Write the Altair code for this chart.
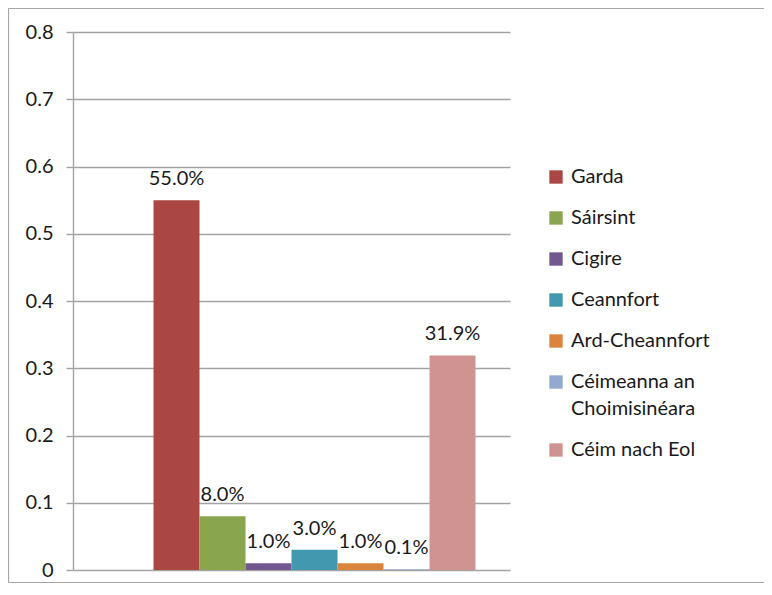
import altair as alt
import pandas as pd

series = ["Garda", "Sáirsint", "Cigire", "Ceannfort", "Ard-Cheannfort",
          "Céimeanna an Choimisinéara", "Céim nach Eol"]
values = [0.55, 0.08, 0.01, 0.03, 0.01, 0.001, 0.319]
colors = ["#AA4643", "#89A54E", "#71588F", "#4198AF", "#DB843D", "#93A9CF", "#D19392"]
y_ticks = [0, 0.1, 0.2, 0.3, 0.4, 0.5, 0.6, 0.7, 0.8]

df = pd.DataFrame({"series": series, "value": values})

FONT = "Lato"
FS = 20
GRID = "#a3a3a3"
BORDER = "#a6a6a6"

# one empty slot before the bars reproduces the off-centre cluster of the original
x_domain = [""] + series
xscale = alt.Scale(domain=x_domain, paddingInner=0, paddingOuter=0.75)

base = alt.Chart(df).encode(
    x=alt.X("series:N", sort=series, scale=xscale, axis=None),
)

bars = base.mark_bar().encode(
    y=alt.Y("value:Q",
            scale=alt.Scale(domain=[0, 0.8], nice=False),
            axis=alt.Axis(values=y_ticks, format="~g", title=None,
                          grid=True, gridColor=GRID, gridWidth=1.4,
                          domainColor=GRID, domainWidth=1.4,
                          tickColor=GRID, tickWidth=1.4, tickSize=7,
                          labelFont=FONT, labelFontSize=FS, labelColor="#1a1a1a",
                          labelPadding=13)),
    color=alt.Color("series:N", sort=series,
                    scale=alt.Scale(domain=series, range=colors),
                    legend=alt.Legend(title=None, orient="none",
                                      legendX=473, legendY=135,
                                      padding=0, symbolType="square",
                                      symbolSize=178, symbolStrokeWidth=0,
                                      labelFont=FONT, labelFontSize=FS,
                                      labelColor="#1a1a1a", labelOffset=5,
                                      rowPadding=21, labelLimit=250,
                                      labelExpr="datum.label == 'Céimeanna an Choimisinéara' ? ['Céimeanna an', 'Choimisinéara'] : datum.label")),
)

labels = base.mark_text(font=FONT, fontSize=FS, color="#1a1a1a",
                        baseline="alphabetic", dy=-15).encode(
    y=alt.Y("value:Q"),
    text=alt.Text("value:Q", format=".1%"),
)

one = alt.Data(values=[{}])
frame_left = alt.Chart(one).mark_rule(stroke=BORDER, strokeWidth=1.2).encode(
    x=alt.value(-64.5), y=alt.value(-23.5), y2=alt.value(550.5))
frame_top = alt.Chart(one).mark_rule(stroke=BORDER, strokeWidth=1.2).encode(
    x=alt.value(-64.5), x2=alt.value(700), y=alt.value(-23.5))
frame_bottom = alt.Chart(one).mark_rule(stroke=BORDER, strokeWidth=1.2).encode(
    x=alt.value(-64.5), x2=alt.value(700), y=alt.value(550.5))

chart = alt.layer(frame_left, frame_top, frame_bottom, bars, labels).properties(
    width=437, height=538,
    autosize=alt.AutoSizeParams(type="none"),
    padding={"left": 65, "top": 24, "right": 254, "bottom": 13},
).configure(
    view=alt.ViewConfig(stroke=None),
    style={"guide-label": {"lineHeight": 27}},
)

chart.save("out.html", embed_options={"renderer": "svg", "actions": False})
